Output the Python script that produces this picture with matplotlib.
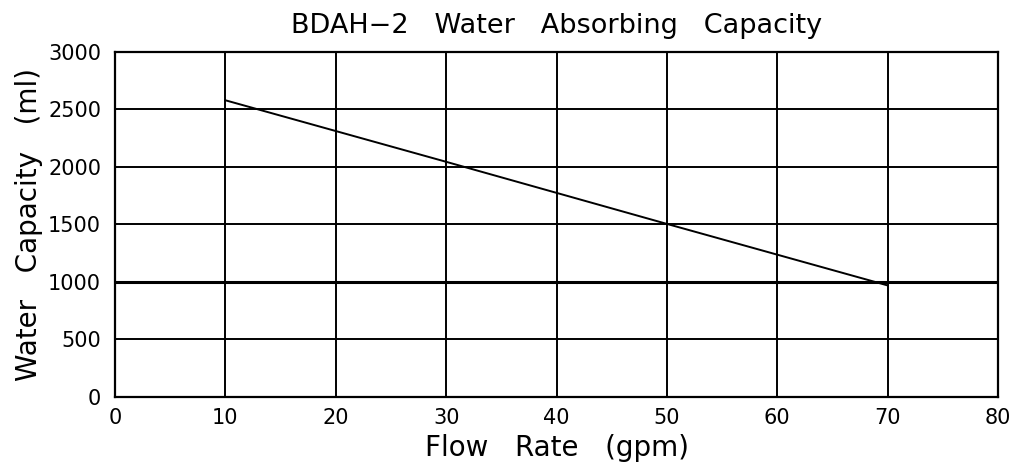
import matplotlib
matplotlib.use("Agg")
import matplotlib.pyplot as plt

# Datos
flow_rate = [10, 30, 50, 70]          # gpm
capacity = [2580, 2045, 1505, 970]    # ml
reference_level = 1000                # ml

x_ticks = [0, 10, 20, 30, 40, 50, 60, 70, 80]
y_ticks = [0, 500, 1000, 1500, 2000, 2500, 3000]

plt.rcParams['font.family'] = ['DejaVu Sans']

fig = plt.figure(figsize=(10.15, 4.72), dpi=100)
ax = fig.add_axes([0.1133, 0.1589, 0.87, 0.731])

ax.plot(flow_rate, capacity, color='black', linewidth=1.4)
ax.axhline(reference_level, color='black', linewidth=2.2)

ax.set_xlim(0, 80)
ax.set_ylim(0, 3000)
ax.set_xticks(x_ticks)
ax.set_yticks(y_ticks)
ax.grid(True, color='black', linewidth=1.4)
ax.tick_params(length=0, labelsize=15)
ax.tick_params(axis='y', pad=10)
ax.tick_params(axis='x', pad=8)
for spine in ax.spines.values():
    spine.set_linewidth(1.6)

ax.set_title('BDAH\u22122   Water   Absorbing   Capacity', fontsize=19.5, pad=14)
ax.set_xlabel('Flow   Rate   (gpm)', fontsize=20, labelpad=4)
ax.set_ylabel('Water   Capacity   (ml)', fontsize=20, labelpad=4)

plt.savefig('out.png', dpi=100)
